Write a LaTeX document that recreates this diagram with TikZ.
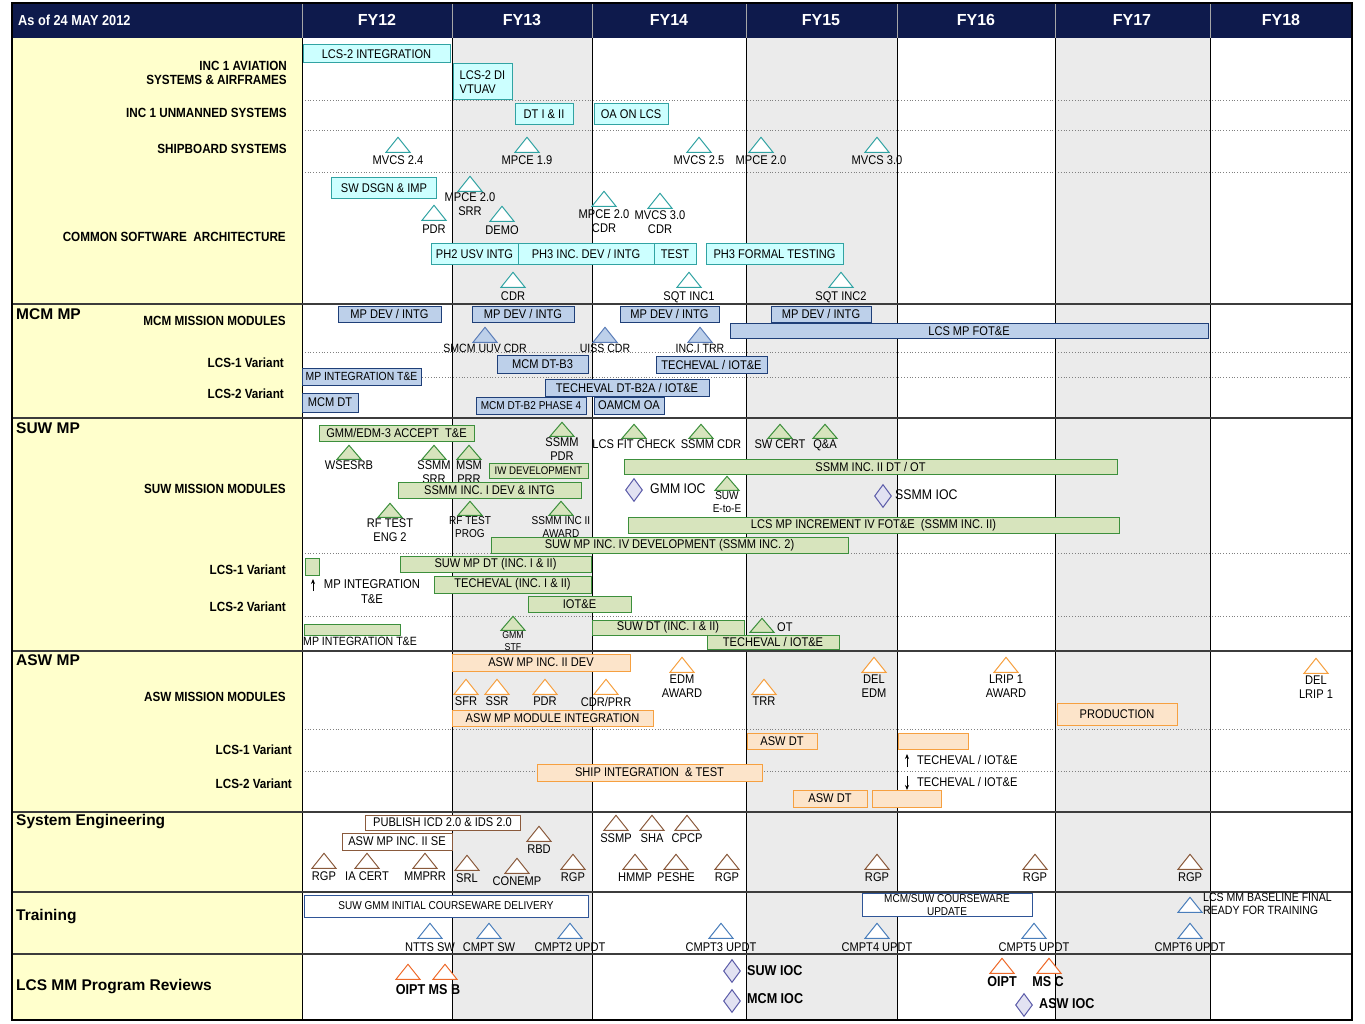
\documentclass[tikz,border=0pt]{standalone}
\usepackage{fontspec}
\setmainfont{Liberation Sans}[FakeStretch=0.88]
\newfontfamily\titlefont{Liberation Sans}
\usetikzlibrary{shapes.geometric,positioning,arrows.meta}

\definecolor{hdrnavy}{HTML}{0E1A4C}
\definecolor{lblyellow}{HTML}{FFFFCC}
\definecolor{colgray}{HTML}{EBEBEB}
\definecolor{gridline}{HTML}{3C3C3C}
\definecolor{cyfill}{HTML}{CCFFFF}
\definecolor{cyline}{HTML}{31A3A3}
\definecolor{mcfill}{HTML}{BDD0EA}
\definecolor{mcline}{HTML}{1F3F78}
\definecolor{mctri}{HTML}{5B7DB8}
\definecolor{sufill}{HTML}{D7E4BD}
\definecolor{suline}{HTML}{3C8F3C}
\definecolor{dmfill}{HTML}{E2E2F2}
\definecolor{dmline}{HTML}{5A5AA8}
\definecolor{asfill}{HTML}{FCE4CA}
\definecolor{asline}{HTML}{F6A040}
\definecolor{seline}{HTML}{8A5A3C}
\definecolor{trline}{HTML}{2F5597}
\definecolor{trtri}{HTML}{4A7EBB}
\definecolor{rvline}{HTML}{EE6A2A}

\newcommand{\fnt}{\fontsize{12.6}{14}\selectfont}
\newcommand{\fnts}{\fontsize{11.4}{12.5}\selectfont}

\begin{document}
\begin{tikzpicture}[x=1pt, y=-1pt,
  txt/.style={inner sep=1pt, font=\fnt, align=center},
  stxt/.style={txt, font=\fnts},
  rowlbl/.style={anchor=east, inner sep=0pt, align=right, font=\fontsize{13.3}{14}\selectfont\bfseries},
  sectlbl/.style={anchor=west, inner sep=0pt, font=\titlefont\fontsize{15.5}{18}\selectfont\bfseries},
  fy/.style={text=white, font=\titlefont\fontsize{16}{18}\selectfont\bfseries},
  revlbl/.style={inner sep=0pt, font=\fontsize{14.3}{15}\selectfont\bfseries},
  barbox/.style={rectangle, draw, line width=1pt, inner sep=1pt, font=\fnt, align=center},
  cybar/.style={barbox, fill=cyfill, draw=cyline},
  mcbar/.style={barbox, fill=mcfill, draw=mcline},
  subar/.style={barbox, fill=sufill, draw=suline},
  asbar/.style={barbox, fill=asfill, draw=asline},
  sebar/.style={barbox, fill=white, draw=seline},
  trbar/.style={barbox, fill=white, draw=trline},
  ms/.style={isosceles triangle, isosceles triangle stretches, shape border rotate=90,
             minimum width=24pt, minimum height=15pt, inner sep=0pt, anchor=apex,
             draw, line width=1pt, fill=white},
  cyms/.style={ms, draw=cyline},
  mcms/.style={ms, draw=mctri, fill=mcfill},
  sums/.style={ms, draw=suline, fill=sufill, minimum height=14pt},
  asms/.style={ms, draw=asline},
  sems/.style={ms, draw=seline},
  trms/.style={ms, draw=trtri},
  rvms/.style={ms, draw=rvline},
  ioc/.style={diamond, draw=dmline, fill=dmfill, line width=1pt, minimum width=17pt,
              minimum height=23pt, inner sep=0pt},
  arr/.style={-{Stealth[length=5pt, width=4pt]}, line width=0.8pt},
  dotline/.style={gray, dotted, line width=0.8pt},
]
\useasboundingbox (0,0) rectangle (1365,1024);

% background: label column, shaded years, header band
\fill[lblyellow] (12,38) rectangle (302,1020);
\fill[colgray] (452,38) rectangle (592,1020);
\fill[colgray] (746,38) rectangle (897,1020);
\fill[colgray] (1055,38) rectangle (1210,1020);
\fill[hdrnavy] (12,3) rectangle (1352,38);

% grid
\draw[dotline] (302,100) -- (1352,100) (302,130) -- (1352,130) (302,172) -- (1352,172)
  (302,352) -- (1352,352) (302,377) -- (1352,377) (302,553) -- (1352,553)
  (302,616) -- (1352,616) (302,729) -- (1352,729) (302,771) -- (1352,771);
\draw[black, line width=0.9pt] (302,38) -- (302,1020) (452,38) -- (452,1020)
  (592,38) -- (592,1020) (746,38) -- (746,1020) (897,38) -- (897,1020)
  (1055,38) -- (1055,1020) (1210,38) -- (1210,1020);
\draw[gray!70, line width=0.6pt] (302,3) -- (302,38) (452,3) -- (452,38) (592,3) -- (592,38)
  (746,3) -- (746,38) (897,3) -- (897,38) (1055,3) -- (1055,38) (1210,3) -- (1210,38);
\draw[gridline, line width=1.5pt] (12,304) -- (1352,304) (12,418) -- (1352,418)
  (12,651) -- (1352,651) (12,812) -- (1352,812) (12,892) -- (1352,892) (12,954) -- (1352,954);
\draw[black, line width=1.2pt] (12,3) rectangle (1352,1020);

% header
\node[anchor=west, inner sep=0pt, text=white, font=\fontsize{14.5}{16}\selectfont\bfseries] (asof) at (18,20) {As of 24 MAY 2012};
\node[fy] (fy12) at (377,20) {FY12};
\node[fy] (fy13) at (522,20) {FY13};
\node[fy] (fy14) at (669,20) {FY14};
\node[fy] (fy15) at (821,20) {FY15};
\node[fy] (fy16) at (976,20) {FY16};
\node[fy] (fy17) at (1132,20) {FY17};
\node[fy] (fy18) at (1281,20) {FY18};

% row labels
\node[rowlbl] (rAvia) at (287,73) {INC 1 AVIATION\\SYSTEMS \& AIRFRAMES};
\node[rowlbl] (rUnm) at (287,113) {INC 1 UNMANNED SYSTEMS};
\node[rowlbl] (rShip) at (287,149) {SHIPBOARD SYSTEMS};
\node[rowlbl] (rCsa) at (286,237) {COMMON SOFTWARE\ \ ARCHITECTURE};
\node[sectlbl] (sMcm) at (16,314) {MCM MP};
\node[rowlbl] (rMcmMM) at (286,321) {MCM MISSION MODULES};
\node[rowlbl] (rMcm1) at (284,363) {LCS-1 Variant};
\node[rowlbl] (rMcm2) at (284,394) {LCS-2 Variant};
\node[sectlbl] (sSuw) at (16,428) {SUW MP};
\node[rowlbl] (rSuwMM) at (286,489) {SUW MISSION MODULES};
\node[rowlbl] (rSuw1) at (286,570) {LCS-1 Variant};
\node[rowlbl] (rSuw2) at (286,607) {LCS-2 Variant};
\node[sectlbl] (sAsw) at (16,660) {ASW MP};
\node[rowlbl] (rAswMM) at (286,697) {ASW MISSION MODULES};
\node[rowlbl] (rAsw1) at (292,750) {LCS-1 Variant};
\node[rowlbl] (rAsw2) at (292,784) {LCS-2 Variant};
\node[sectlbl] (sSe) at (16,822) {System Engineering};
\node[sectlbl] (sTr) at (16,917) {Training};
\node[sectlbl] (sRev) at (16,987) {LCS MM Program Reviews};

% aviation, unmanned, shipboard
\node[cybar, minimum width=147pt, minimum height=18pt] (avInt) at (376.5,54) {LCS-2 INTEGRATION};
\node[cybar, minimum width=59pt, minimum height=36pt, align=left] (avDi) at (482.5,82) {LCS-2 DI\\VTUAV};
\node[cybar, minimum width=58pt, minimum height=21pt] (unDt) at (544,114.5) {DT I \& II};
\node[cybar, minimum width=74pt, minimum height=21pt] (unOa) at (631,114.5) {OA ON LCS};
\node[cyms] (sbMv24) at (398,136) {};
\node[txt, below=2pt of sbMv24] (sbMv24l) {MVCS 2.4};
\node[cyms] (sbMp19) at (527,136) {};
\node[txt, below=2pt of sbMp19] (sbMp19l) {MPCE 1.9};
\node[cyms] (sbMv25) at (699,136) {};
\node[txt, below=2pt of sbMv25] (sbMv25l) {MVCS 2.5};
\node[cyms] (sbMp20) at (761,136) {};
\node[txt, below=2pt of sbMp20] (sbMp20l) {MPCE 2.0};
\node[cyms] (sbMv30) at (877,136) {};
\node[txt, below=2pt of sbMv30] (sbMv30l) {MVCS 3.0};

% common software architecture
\node[cybar, minimum width=105pt, minimum height=21pt] (csSw) at (384,188) {SW DSGN \& IMP};
\node[cyms] (csSrr) at (470,175) {};
\node[txt, below=0pt of csSrr] (csSrrl) {MPCE 2.0\\SRR};
\node[cyms] (csPdr) at (434,204) {};
\node[txt, below=3pt of csPdr] (csPdrl) {PDR};
\node[cyms] (csDemo) at (502,205) {};
\node[txt, below=3pt of csDemo] (csDemol) {DEMO};
\node[cyms] (csMpCdr) at (604,190) {};
\node[txt, below=2pt of csMpCdr] (csMpCdrl) {MPCE 2.0\\CDR};
\node[cyms] (csMvCdr) at (660,192) {};
\node[txt, below=1pt of csMvCdr] (csMvCdrl) {MVCS 3.0\\CDR};
\node[cybar, minimum width=87pt, minimum height=21pt] (csPh2) at (474.5,254) {PH2 USV INTG};
\node[cybar, minimum width=136pt, minimum height=21pt] (csPh3) at (586,254) {PH3 INC. DEV / INTG};
\node[cybar, minimum width=42pt, minimum height=21pt] (csTest) at (675,254) {TEST};
\node[cybar, minimum width=137pt, minimum height=21pt] (csFormal) at (774.5,254) {PH3 FORMAL TESTING};
\node[cyms] (csCdr) at (513,271) {};
\node[txt, below=3pt of csCdr] (csCdrl) {CDR};
\node[cyms] (csSqt1) at (689,271) {};
\node[txt, below=3pt of csSqt1] (csSqt1l) {SQT INC1};
\node[cyms] (csSqt2) at (841,271) {};
\node[txt, below=3pt of csSqt2] (csSqt2l) {SQT INC2};

% MCM MP
\node[mcbar, minimum width=103pt, minimum height=16pt] (mcDev1) at (389.5,314) {MP DEV / INTG};
\node[mcbar, minimum width=102pt, minimum height=16pt] (mcDev2) at (523,314) {MP DEV / INTG};
\node[mcbar, minimum width=99pt, minimum height=16pt] (mcDev3) at (669.5,314) {MP DEV / INTG};
\node[mcbar, minimum width=100pt, minimum height=16pt] (mcDev4) at (821,314) {MP DEV / INTG};
\node[mcbar, minimum width=478pt, minimum height=15pt] (mcFot) at (969,331) {LCS MP FOT\&E};
\node[mcms] (mcUuv) at (485,326) {};
\node[txt, below=0pt of mcUuv, font=\fontsize{12}{13}\selectfont] (mcUuvl) {SMCM UUV CDR};
\node[mcms] (mcUiss) at (605,326) {};
\node[txt, below=0pt of mcUiss, font=\fontsize{12}{13}\selectfont] (mcUissl) {UISS CDR};
\node[mcms] (mcTrr) at (700,326) {};
\node[txt, below=0pt of mcTrr, font=\fontsize{12}{13}\selectfont] (mcTrrl) {INC.I TRR};
\node[mcbar, minimum width=91pt, minimum height=18pt] (mcDtb3) at (542.5,364) {MCM DT-B3};
\node[mcbar, minimum width=111pt, minimum height=17pt] (mcTech1) at (711.5,364.5) {TECHEVAL / IOT\&E};
\node[mcbar, minimum width=119pt, minimum height=17pt, inner sep=0pt, font=\fontsize{11.8}{12}\selectfont] (mcInt) at (361.5,376.5) {MP INTEGRATION T\&E};
\node[mcbar, minimum width=164pt, minimum height=17pt] (mcTech2) at (627,387.5) {TECHEVAL DT-B2A / IOT\&E};
\node[mcbar, minimum width=56pt, minimum height=19pt] (mcDt) at (330,402.5) {MCM DT};
\node[mcbar, minimum width=110pt, minimum height=17pt, font=\fnts] (mcPh4) at (531,405.5) {MCM DT-B2 PHASE 4};
\node[mcbar, minimum width=70pt, minimum height=17pt] (mcOa) at (629,405.5) {OAMCM OA};

% SUW MP
\node[subar, minimum width=155pt, minimum height=16pt] (suGmm) at (396.5,433) {GMM/EDM-3 ACCEPT\ \ T\&E};
\node[sums] (suPdr) at (562,421) {};
\node[txt, below=0pt of suPdr] (suPdrl) {SSMM\\PDR};
\node[sums] (suFit) at (634,423) {};
\node[txt, below=0pt of suFit] (suFitl) {LCS FIT CHECK};
\node[sums] (suCdr) at (701,423) {};
\node[txt] (suCdrl) at (711,444) {SSMM CDR};
\node[sums] (suCert) at (780,423) {};
\node[txt, below=0pt of suCert] (suCertl) {SW CERT};
\node[sums] (suQa) at (825,423) {};
\node[txt, below=0pt of suQa] (suQal) {Q\&A};
\node[sums] (suWse) at (349,444) {};
\node[txt, below=0pt of suWse] (suWsel) {WSESRB};
\node[sums] (suSrr) at (434,444) {};
\node[txt, below=0pt of suSrr] (suSrrl) {SSMM\\SRR};
\node[sums] (suPrr) at (469,444) {};
\node[txt, below=0pt of suPrr] (suPrrl) {MSM\\PRR};
\node[subar, minimum width=99pt, minimum height=15pt, font=\fontsize{11}{12}\selectfont] (suIw) at (538.5,470.5) {IW DEVELOPMENT};
\node[subar, minimum width=493pt, minimum height=15pt] (suDtot) at (870.5,466.5) {SSMM INC. II DT / OT};
\node[subar, minimum width=183pt, minimum height=16pt] (suInc1) at (489.5,490) {SSMM INC. I DEV \& INTG};
\node[ioc] (suGmmIoc) at (634,490) {};
\node[anchor=west, inner sep=0pt, font=\fontsize{14}{15}\selectfont] (suGmmIocl) at (650,489) {GMM IOC};
\node[sums] (suE2e) at (727,475) {};
\node[stxt, below=0pt of suE2e] (suE2el) {SUW\\E-to-E};
\node[ioc] (suSsmmIoc) at (883,496) {};
\node[anchor=west, inner sep=0pt, font=\fontsize{14}{15}\selectfont] (suSsmmIocl) at (895,495) {SSMM IOC};
\node[sums] (suRf) at (390,502) {};
\node[txt, below=0pt of suRf] (suRfl) {RF TEST\\ENG 2};
\node[sums] (suProg) at (470,500) {};
\node[stxt, below=0pt of suProg] (suProgl) {RF TEST\\PROG};
\node[sums] (suAward) at (561,500) {};
\node[stxt, below=0pt of suAward] (suAwardl) {SSMM INC II\\AWARD};
\node[subar, minimum width=491pt, minimum height=16pt] (suFot) at (873.5,525) {LCS MP INCREMENT IV FOT\&E\ \ (SSMM INC. II)};
\node[subar, minimum width=357pt, minimum height=16pt] (suInc4) at (669.5,545) {SUW MP INC. IV DEVELOPMENT (SSMM INC. 2)};
\node[subar, minimum width=14pt, minimum height=17pt] (suSmall) at (312,566.5) {};
\node[subar, minimum width=191pt, minimum height=16pt] (suDt) at (495.5,564) {SUW MP DT (INC. I \& II)};
\coordinate (suArrA) at (313,591);
\coordinate (suArrB) at (313,579);
\draw[arr] (suArrA) -- (suArrB);
\node[txt, inner sep=0pt, font=\fontsize{12.8}{15}\selectfont] (suIntl) at (372,592) {MP INTEGRATION\\T\&E};
\node[subar, minimum width=157pt, minimum height=17pt] (suTech) at (512.5,584.5) {TECHEVAL (INC. I \& II)};
\node[subar, minimum width=103pt, minimum height=16pt] (suIot) at (579.5,604) {IOT\&E};
\node[subar, minimum width=96pt, minimum height=11pt] (suInt2) at (352,629.5) {};
\node[txt, anchor=west, inner sep=0pt, font=\fontsize{12}{13}\selectfont] (suInt2l) at (303,641) {MP INTEGRATION T\&E};
\node[sums] (suStf) at (513,615) {};
\node[stxt, below=0pt of suStf, font=\fontsize{10}{11.5}\selectfont] (suStfl) {GMM\\STF};
\node[subar, minimum width=152pt, minimum height=15pt] (suDt2) at (668,627.5) {SUW DT (INC. I \& II)};
\node[sums] (suOt) at (762,617) {};
\node[txt, anchor=west, inner sep=0pt] (suOtl) at (777,627) {OT};
\node[subar, minimum width=132pt, minimum height=14pt] (suTech2) at (773,642) {TECHEVAL / IOT\&E};

% ASW MP
\node[asbar, minimum width=178pt, minimum height=17pt] (asDev) at (541,662.5) {ASW MP INC. II DEV};
\node[asms] (asEdm) at (682,656) {};
\node[txt, below=1pt of asEdm] (asEdml) {EDM\\AWARD};
\node[asms] (asDelEdm) at (874,656) {};
\node[txt, below=1pt of asDelEdm] (asDelEdml) {DEL\\EDM};
\node[asms] (asLrip) at (1006,656) {};
\node[txt, below=1pt of asLrip] (asLripl) {LRIP 1\\AWARD};
\node[asms] (asDelLrip) at (1316,657) {};
\node[txt, below=1pt of asDelLrip] (asDelLripl) {DEL\\LRIP 1};
\node[asms] (asSfr) at (466,678) {};
\node[txt, below=1pt of asSfr] (asSfrl) {SFR};
\node[asms] (asSsr) at (497,678) {};
\node[txt, below=1pt of asSsr] (asSsrl) {SSR};
\node[asms] (asPdr) at (545,678) {};
\node[txt, below=1pt of asPdr] (asPdrl) {PDR};
\node[asms] (asCdr) at (606,678) {};
\node[txt, below=1pt of asCdr] (asCdrl) {CDR/PRR};
\node[asms] (asTrr) at (764,678) {};
\node[txt, below=1pt of asTrr] (asTrrl) {TRR};
\node[asbar, minimum width=201pt, minimum height=16pt] (asInt) at (552.5,718) {ASW MP MODULE INTEGRATION};
\node[asbar, minimum width=120pt, minimum height=22pt] (asProd) at (1117,714) {PRODUCTION};
\node[asbar, minimum width=70pt, minimum height=16pt] (asDt1) at (782,741) {ASW DT};
\node[asbar, minimum width=70pt, minimum height=16pt] (asEv1) at (933,741) {};
\coordinate (asArrA) at (907,767);
\coordinate (asArrB) at (907,754);
\draw[arr] (asArrA) -- (asArrB);
\node[txt, anchor=west, inner sep=0pt] (asTech1) at (917,760) {TECHEVAL / IOT\&E};
\node[asbar, minimum width=225pt, minimum height=17pt] (asShip) at (649.5,772.5) {SHIP INTEGRATION\ \ \& TEST};
\coordinate (asArrC) at (907,776);
\coordinate (asArrD) at (907,790);
\draw[arr] (asArrC) -- (asArrD);
\node[txt, anchor=west, inner sep=0pt] (asTech2) at (917,782) {TECHEVAL / IOT\&E};
\node[asbar, minimum width=74pt, minimum height=17pt] (asDt2) at (830,798.5) {ASW DT};
\node[asbar, minimum width=69pt, minimum height=17pt] (asEv2) at (906.5,798.5) {};

% system engineering
\node[sebar, minimum width=155pt, minimum height=15pt] (sePub) at (442.5,822.5) {PUBLISH ICD 2.0 \& IDS 2.0};
\node[sebar, minimum width=110pt, minimum height=17pt] (seAsw) at (397,841.5) {ASW MP INC. II SE};
\node[sems] (seRgp1) at (324,852) {};
\node[txt, below=2pt of seRgp1] (seRgp1l) {RGP};
\node[sems] (seIa) at (367,852) {};
\node[txt, below=2pt of seIa] (seIal) {IA CERT};
\node[sems] (seMmprr) at (425,852) {};
\node[txt, below=2pt of seMmprr] (seMmprrl) {MMPRR};
\node[sems] (seSrl) at (467,854) {};
\node[txt, below=2pt of seSrl] (seSrll) {SRL};
\node[sems] (seConemp) at (517,857) {};
\node[txt, below=2pt of seConemp] (seConempl) {CONEMP};
\node[sems] (seRbd) at (539,825) {};
\node[txt, below=2pt of seRbd] (seRbdl) {RBD};
\node[sems] (seRgp2) at (573,853) {};
\node[txt, below=2pt of seRgp2] (seRgp2l) {RGP};
\node[sems] (seSsmp) at (616,814) {};
\node[txt, below=2pt of seSsmp] (seSsmpl) {SSMP};
\node[sems] (seSha) at (652,814) {};
\node[txt, below=2pt of seSha] (seShal) {SHA};
\node[sems] (seCpcp) at (687,814) {};
\node[txt, below=2pt of seCpcp] (seCpcpl) {CPCP};
\node[sems] (seHmmp) at (635,853) {};
\node[txt, below=2pt of seHmmp] (seHmmpl) {HMMP};
\node[sems] (sePeshe) at (676,853) {};
\node[txt, below=2pt of sePeshe] (sePeshel) {PESHE};
\node[sems] (seRgp3) at (727,853) {};
\node[txt, below=2pt of seRgp3] (seRgp3l) {RGP};
\node[sems] (seRgp4) at (877,853) {};
\node[txt, below=2pt of seRgp4] (seRgp4l) {RGP};
\node[sems] (seRgp5) at (1035,853) {};
\node[txt, below=2pt of seRgp5] (seRgp5l) {RGP};
\node[sems] (seRgp6) at (1190,853) {};
\node[txt, below=2pt of seRgp6] (seRgp6l) {RGP};

% training
\node[trbar, minimum width=284pt, minimum height=22pt, font=\fnts] (trGmm) at (446,906) {SUW GMM INITIAL COURSEWARE DELIVERY};
\node[trbar, minimum width=170pt, minimum height=22pt, font=\fnts] (trUpd) at (947,905) {MCM/SUW COURSEWARE\\UPDATE};
\node[trms] (trBase) at (1190,896) {};
\node[stxt, anchor=west, align=left, inner sep=0pt, font=\fontsize{12}{13}\selectfont] (trBasel) at (1203,904) {LCS MM BASELINE FINAL\\READY FOR TRAINING};
\node[trms] (trNtts) at (430,922) {};
\node[txt, below=3pt of trNtts] (trNttsl) {NTTS SW};
\node[trms] (trCmpt) at (489,922) {};
\node[txt, below=3pt of trCmpt] (trCmptl) {CMPT SW};
\node[trms] (trC2) at (570,922) {};
\node[txt, below=3pt of trC2] (trC2l) {CMPT2 UPDT};
\node[trms] (trC3) at (721,922) {};
\node[txt, below=3pt of trC3] (trC3l) {CMPT3 UPDT};
\node[trms] (trC4) at (877,922) {};
\node[txt, below=3pt of trC4] (trC4l) {CMPT4 UPDT};
\node[trms] (trC5) at (1034,922) {};
\node[txt, below=3pt of trC5] (trC5l) {CMPT5 UPDT};
\node[trms] (trC6) at (1190,922) {};
\node[txt, below=3pt of trC6] (trC6l) {CMPT6 UPDT};

% program reviews
\node[rvms] (rvOipt1) at (408,963) {};
\node[rvms] (rvMsb) at (445,963) {};
\node[revlbl] (rvOipt1l) at (428,990) {OIPT MS B};
\node[ioc] (rvSuw) at (732,971) {};
\node[revlbl, anchor=west] (rvSuwl) at (747,971) {SUW IOC};
\node[ioc] (rvMcm) at (732,1001) {};
\node[revlbl, anchor=west] (rvMcml) at (747,999) {MCM IOC};
\node[rvms] (rvOipt2) at (1002,957) {};
\node[revlbl] (rvOipt2l) at (1002,982) {OIPT};
\node[rvms] (rvMsc) at (1049,957) {};
\node[revlbl] (rvMscl) at (1048,982) {MS C};
\node[ioc] (rvAsw) at (1024,1005) {};
\node[revlbl, anchor=west] (rvAswl) at (1039,1004) {ASW IOC};

\end{tikzpicture}
\end{document}
